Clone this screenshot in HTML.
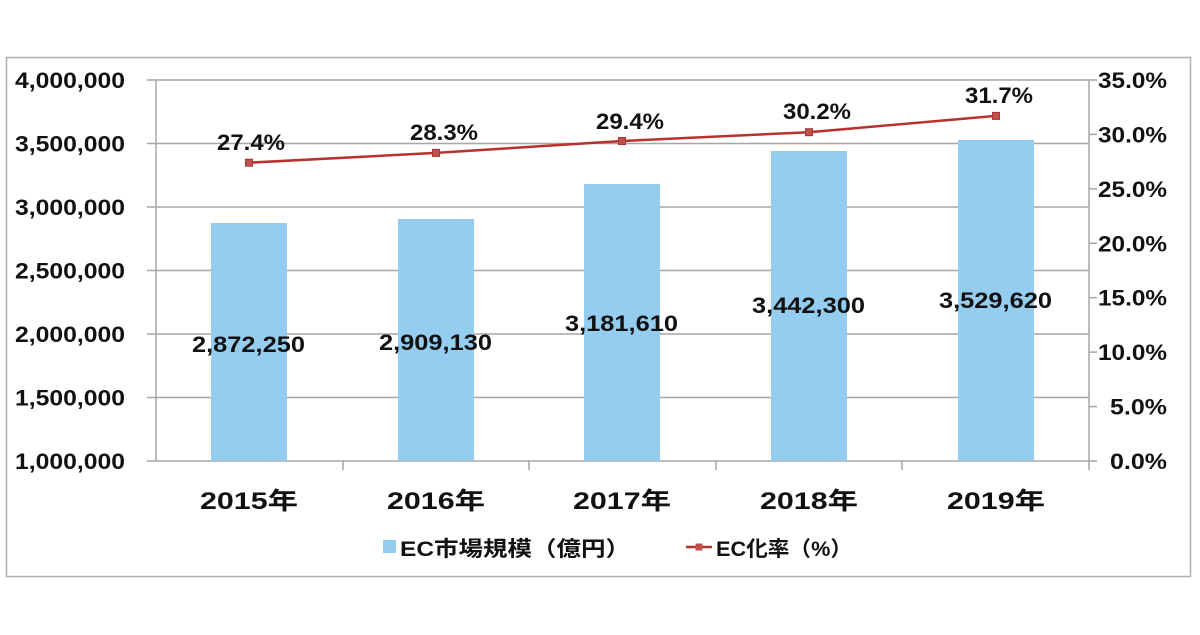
<!DOCTYPE html>
<html><head><meta charset="utf-8"><style>
body{margin:0;background:#fff;}
text{font-family:"Liberation Sans","Noto Sans CJK JP",sans-serif;font-weight:bold;fill:#111;}
</style></head><body>
<svg width="1200" height="630" xmlns="http://www.w3.org/2000/svg">
<rect x="0" y="0" width="1200" height="630" fill="#fff"/>
<rect x="6.5" y="57.5" width="1184" height="519" fill="#fff" stroke="#b0b0b0" stroke-width="1.5"/>
<g stroke="#a6a6a6" stroke-width="1.5">
<line x1="147" y1="80" x2="1089" y2="80"/>
<line x1="147" y1="143.5" x2="1089" y2="143.5"/>
<line x1="147" y1="207" x2="1089" y2="207"/>
<line x1="147" y1="270.5" x2="1089" y2="270.5"/>
<line x1="147" y1="334" x2="1089" y2="334"/>
<line x1="147" y1="397.5" x2="1089" y2="397.5"/>
<line x1="147" y1="461" x2="1097" y2="461"/>
<line x1="156" y1="80" x2="156" y2="461"/>
<line x1="1089" y1="80" x2="1089" y2="470"/>
<line x1="343" y1="461" x2="343" y2="470"/>
<line x1="529" y1="461" x2="529" y2="470"/>
<line x1="716" y1="461" x2="716" y2="470"/>
<line x1="902" y1="461" x2="902" y2="470"/>
<line x1="1089" y1="80" x2="1097" y2="80"/>
<line x1="1089" y1="134.4" x2="1097" y2="134.4"/>
<line x1="1089" y1="188.9" x2="1097" y2="188.9"/>
<line x1="1089" y1="243.3" x2="1097" y2="243.3"/>
<line x1="1089" y1="297.7" x2="1097" y2="297.7"/>
<line x1="1089" y1="352.1" x2="1097" y2="352.1"/>
<line x1="1089" y1="406.6" x2="1097" y2="406.6"/>
</g>
<g fill="#94cdef">
<rect x="211" y="223" width="76" height="238"/>
<rect x="398" y="219" width="76" height="242"/>
<rect x="584" y="184" width="76" height="277"/>
<rect x="771" y="151" width="76" height="310"/>
<rect x="958" y="140" width="76" height="321"/>
</g>
<g font-size="22" text-anchor="end" lengthAdjust="spacingAndGlyphs">
<text x="125" y="88" textLength="110" lengthAdjust="spacingAndGlyphs">4,000,000</text>
<text x="125" y="151.5" textLength="110" lengthAdjust="spacingAndGlyphs">3,500,000</text>
<text x="125" y="215" textLength="110" lengthAdjust="spacingAndGlyphs">3,000,000</text>
<text x="125" y="278.5" textLength="110" lengthAdjust="spacingAndGlyphs">2,500,000</text>
<text x="125" y="342" textLength="110" lengthAdjust="spacingAndGlyphs">2,000,000</text>
<text x="125" y="405.5" textLength="110" lengthAdjust="spacingAndGlyphs">1,500,000</text>
<text x="125" y="469" textLength="110" lengthAdjust="spacingAndGlyphs">1,000,000</text>
</g>
<g font-size="22">
<text x="1098" y="88" textLength="69" lengthAdjust="spacingAndGlyphs">35.0%</text>
<text x="1098" y="142.4" textLength="69" lengthAdjust="spacingAndGlyphs">30.0%</text>
<text x="1098" y="196.9" textLength="69" lengthAdjust="spacingAndGlyphs">25.0%</text>
<text x="1098" y="251.3" textLength="69" lengthAdjust="spacingAndGlyphs">20.0%</text>
<text x="1098" y="305.7" textLength="69" lengthAdjust="spacingAndGlyphs">15.0%</text>
<text x="1098" y="360.1" textLength="69" lengthAdjust="spacingAndGlyphs">10.0%</text>
<text x="1110" y="414.6" textLength="57" lengthAdjust="spacingAndGlyphs">5.0%</text>
<text x="1110" y="469" textLength="57" lengthAdjust="spacingAndGlyphs">0.0%</text>
</g>
<g font-size="24">
<text x="200" y="509" textLength="98" lengthAdjust="spacingAndGlyphs">2015年</text>
<text x="387" y="509" textLength="98" lengthAdjust="spacingAndGlyphs">2016年</text>
<text x="573" y="509" textLength="98" lengthAdjust="spacingAndGlyphs">2017年</text>
<text x="760" y="509" textLength="98" lengthAdjust="spacingAndGlyphs">2018年</text>
<text x="947" y="509" textLength="98" lengthAdjust="spacingAndGlyphs">2019年</text>
</g>
<g font-size="22">
<text x="192" y="352" textLength="113" lengthAdjust="spacingAndGlyphs">2,872,250</text>
<text x="379" y="350" textLength="113" lengthAdjust="spacingAndGlyphs">2,909,130</text>
<text x="565" y="331" textLength="113" lengthAdjust="spacingAndGlyphs">3,181,610</text>
<text x="752" y="313" textLength="113" lengthAdjust="spacingAndGlyphs">3,442,300</text>
<text x="939" y="308" textLength="113" lengthAdjust="spacingAndGlyphs">3,529,620</text>
</g>
<polyline points="249,162.7 436,152.9 622,141 809,132.2 996,115.9" fill="none" stroke="#b8312c" stroke-width="2.5"/>
<g fill="#c0504d" stroke="#a33">
<rect x="245.5" y="159.2" width="7" height="7"/>
<rect x="432.5" y="149.4" width="7" height="7"/>
<rect x="618.5" y="137.5" width="7" height="7"/>
<rect x="805.5" y="128.7" width="7" height="7"/>
<rect x="992.5" y="112.4" width="7" height="7"/>
</g>
<g font-size="22">
<text x="217" y="150" textLength="68" lengthAdjust="spacingAndGlyphs">27.4%</text>
<text x="410" y="140" textLength="68" lengthAdjust="spacingAndGlyphs">28.3%</text>
<text x="596" y="129" textLength="68" lengthAdjust="spacingAndGlyphs">29.4%</text>
<text x="783" y="119" textLength="68" lengthAdjust="spacingAndGlyphs">30.2%</text>
<text x="965" y="103" textLength="68" lengthAdjust="spacingAndGlyphs">31.7%</text>
</g>
<rect x="383" y="540" width="13" height="13" fill="#94cdef"/>
<text x="400" y="556" font-size="21" textLength="230" lengthAdjust="spacingAndGlyphs">EC市場規模（億円）</text>
<line x1="686" y1="547" x2="712" y2="547" stroke="#b8312c" stroke-width="2.5"/>
<rect x="695.5" y="543.5" width="7" height="7" fill="#c0504d"/>
<text x="716" y="556" font-size="21" textLength="136" lengthAdjust="spacingAndGlyphs">EC化率（%）</text>
</svg>
</body></html>
